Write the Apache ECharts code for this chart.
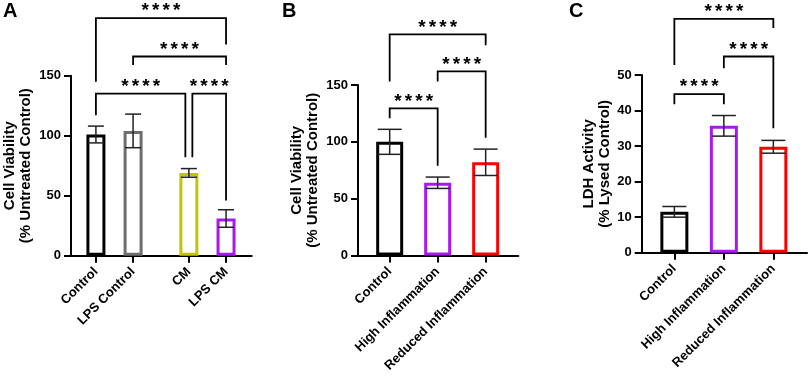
<!doctype html>
<html>
<head>
<meta charset="utf-8">
<title>Cell viability / LDH</title>
<script src="https://cdn.jsdelivr.net/npm/echarts@6.0.0/dist/echarts.min.js"></script>
</head>
<body style="margin:0;padding:0;background:#fff">
<div id="main" style="width:809px;height:376px"></div>
<script>
// ---- data ----
// panel A
var catA = ['Control', 'LPS Control', 'CM', 'LPS CM'];
var meanA = [101, 104, 69, 31];
var sdA = [7, 14, 3.6, 7.3];
// brackets: [from, to, top, left leg end, right leg end]
var bracketA = [
    [0, 3, 198, 145, 176],
    [1, 3, 166, 159, 159],
    [0, 2, 135, 117, 82],
    [2, 3, 135, 82, 46]
];
// panel B
var catB = ['Control', 'High Inflammation', 'Reduced Inflammation'];
var meanB = [100, 64, 82];
var sdB = [11, 5, 11.6];
var bracketB = [
    [0, 2, 194.6, 153, 185],
    [1, 2, 162, 153, 103.6],
    [0, 1, 129.5, 120.7, 79]
];
// panel C
var catC = ['Control', 'High Inflammation', 'Reduced Inflammation'];
var meanC = [11.5, 35.7, 29.8];
var sdC = [1.5, 2.9, 1.8];
var bracketC = [
    [0, 2, 65.8, 52.8, 63.2],
    [1, 2, 55.2, 51.9, 35],
    [0, 1, 44.6, 41.8, 41.8]
];
var starText = '*';
var starCount = 4;

// ---- layout / style ----
var FONT = 'Arial, "Liberation Sans", Helvetica, sans-serif';
var slotsA = [0, 1, 2.5, 3.5]; // gap between the two pairs
var slots3 = [0, 1, 2];
var nudgeA = [[0, 0], [0, 0], [0, -3.5], [3.5, 0]];
var nudge0 = [[0, 0], [0, 0], [0, 0]];
var colorsA = ['#000000', '#6e6e6e', '#c4c400', '#a818f0'];
var colorsBC = ['#000000', '#a818f0', '#ff0000'];

var chart = echarts.init(document.getElementById('main'));

function xAxisFor(idx, slots, cats, min, max) {
    return {
        type: 'value', gridIndex: idx, min: min, max: max,
        splitLine: { show: false },
        axisLine: { show: true, onZero: false, lineStyle: { color: '#000', width: 2 } },
        axisTick: { show: true, customValues: slots, length: 7, lineStyle: { color: '#000', width: 2 } },
        axisLabel: {
            customValues: slots, rotate: 45, margin: 14,
            color: '#000', fontWeight: 'bold', fontSize: 13, fontFamily: FONT,
            formatter: function (v) { return cats[slots.indexOf(v)] || ''; }
        }
    };
}

function yAxisFor(idx, max, interval, name, gap) {
    return {
        type: 'value', gridIndex: idx, min: 0, max: max, interval: interval,
        name: name, nameLocation: 'middle', nameGap: gap, nameRotate: 90,
        nameTextStyle: { color: '#000', fontWeight: 'bold', fontSize: 15, fontFamily: FONT, lineHeight: 16 },
        splitLine: { show: false },
        axisLine: { show: true, onZero: false, lineStyle: { color: '#000', width: 2 } },
        axisTick: { show: true, length: 7, lineStyle: { color: '#000', width: 2 } },
        axisLabel: { color: '#000', fontWeight: 'bold', fontSize: 13, fontFamily: FONT, margin: 10 }
    };
}

function barSeries(idx, slots, means, colors, width) {
    return {
        type: 'bar', xAxisIndex: idx, yAxisIndex: idx,
        barWidth: width, silent: true,
        data: means.map(function (m, i) {
            return { value: [slots[i], m], itemStyle: { color: '#fff', borderColor: colors[i], borderWidth: 3 } };
        })
    };
}

function errSeries(idx, slots, means, sds, cap) {
    return {
        type: 'custom', xAxisIndex: idx, yAxisIndex: idx, z: 5, silent: true, clip: false,
        data: means.map(function (m, i) { return [i, m, sds[i]]; }),
        renderItem: function (params, api) {
            var x = slots[api.value(0)];
            var m = api.value(1), s = api.value(2);
            var hi = api.coord([x, m + s]);
            var lo = api.coord([x, m - s]);
            var st = { stroke: '#222', lineWidth: 1.5 };
            return {
                type: 'group', children: [
                    { type: 'line', shape: { x1: hi[0], y1: hi[1], x2: lo[0], y2: lo[1] }, style: st },
                    { type: 'line', shape: { x1: hi[0] - cap / 2, y1: hi[1], x2: hi[0] + cap / 2, y2: hi[1] }, style: st },
                    { type: 'line', shape: { x1: lo[0] - cap / 2, y1: lo[1], x2: lo[0] + cap / 2, y2: lo[1] }, style: st }
                ]
            };
        }
    };
}

function bracketSeries(idx, slots, rows, nudge) {
    return {
        type: 'custom', xAxisIndex: idx, yAxisIndex: idx, z: 6, silent: true, clip: false,
        data: rows,
        renderItem: function (params, api) {
            var i = api.value(0), j = api.value(1), top = api.value(2);
            var p1 = api.coord([slots[i], top]);
            var p2 = api.coord([slots[j], top]);
            var e1 = api.coord([slots[i], api.value(3)]);
            var e2 = api.coord([slots[j], api.value(4)]);
            var n = nudge[params.dataIndex];
            var x1 = p1[0] + n[0], x2 = p2[0] + n[1];
            var kids = [{
                type: 'polyline',
                shape: { points: [[x1, e1[1]], [x1, p1[1]], [x2, p2[1]], [x2, e2[1]]] },
                style: { stroke: '#000', lineWidth: 1.8, fill: null }
            }];
            var pitch = 10.5;
            var mid = (x1 + x2) / 2;
            for (var k = 0; k < starCount; k++) {
                kids.push({
                    type: 'text',
                    style: {
                        text: starText, x: mid + (k - (starCount - 1) / 2) * pitch, y: p1[1] - 7,
                        align: 'center', verticalAlign: 'middle',
                        fontSize: 19, fontWeight: 'bold', fontFamily: FONT, fill: '#000'
                    }
                });
            }
            return { type: 'group', children: kids };
        }
    };
}

chart.setOption({
    animation: false,
    backgroundColor: '#fff',
    grid: [
        { left: 71, top: 75.7, width: 180.7, height: 180, outerBoundsMode: 'none' },
        { left: 358, top: 85, width: 160.3, height: 170.5, outerBoundsMode: 'none' },
        { left: 641.7, top: 75, width: 165.3, height: 177.7, outerBoundsMode: 'none' }
    ],
    xAxis: [
        xAxisFor(0, slotsA, catA, -0.67, 4.19),
        xAxisFor(1, slots3, catB, -0.66, 2.68),
        xAxisFor(2, slots3, catC, -0.66, 2.68)
    ],
    yAxis: [
        yAxisFor(0, 150, 50, 'Cell Viability\n(% Untreated Control)', 37),
        yAxisFor(1, 150, 50, 'Cell Viability\n(% Untreated Control)', 37),
        yAxisFor(2, 50, 10, 'LDH Activity\n(% Lysed Control)', 29)
    ],
    graphic: [
        { type: 'text', left: 3, top: 1, style: { text: 'A', fontSize: 20, fontWeight: 'bold', fontFamily: FONT, fill: '#000' } },
        { type: 'text', left: 282, top: 1, style: { text: 'B', fontSize: 20, fontWeight: 'bold', fontFamily: FONT, fill: '#000' } },
        { type: 'text', left: 569, top: 1, style: { text: 'C', fontSize: 20, fontWeight: 'bold', fontFamily: FONT, fill: '#000' } }
    ],
    series: [
        barSeries(0, slotsA, meanA, colorsA, 19),
        errSeries(0, slotsA, meanA, sdA, 16),
        bracketSeries(0, slotsA, bracketA, nudgeA),
        barSeries(1, slots3, meanB, colorsBC, 27),
        errSeries(1, slots3, meanB, sdB, 24),
        bracketSeries(1, slots3, bracketB, nudge0),
        barSeries(2, slots3, meanC, colorsBC, 28),
        errSeries(2, slots3, meanC, sdC, 24),
        bracketSeries(2, slots3, bracketC, nudge0)
    ]
});
</script>
</body>
</html>
